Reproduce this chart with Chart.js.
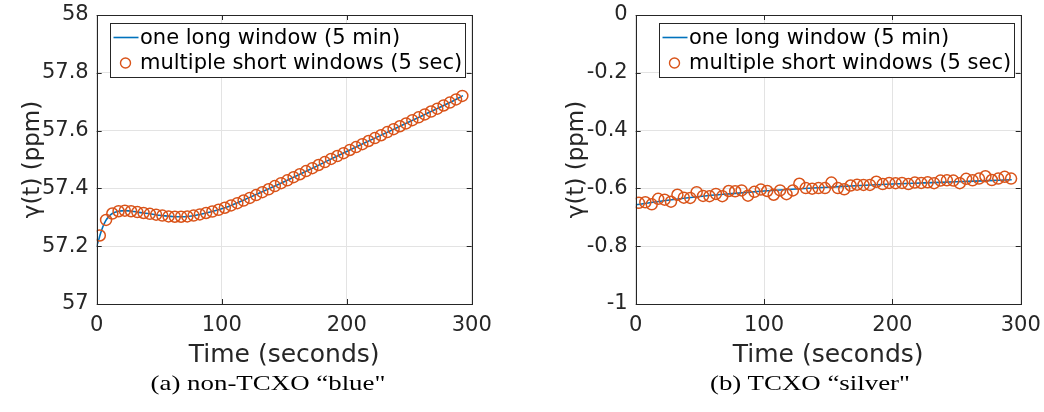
<!DOCTYPE html>
<html><head><meta charset="utf-8">
<script src="https://cdn.jsdelivr.net/npm/chart.js@4.4.1/dist/chart.umd.min.js"></script>
<style>
html,body{margin:0;padding:0;background:#fff;}
body{width:1044px;height:412px;position:relative;overflow:hidden;}
.c{position:absolute;top:0;}
.cap{position:absolute;top:370px;font-family:"Liberation Serif","DejaVu Serif",serif;font-size:21px;line-height:26px;color:#000;white-space:nowrap;transform:translateX(-50%) scaleX(1.28);}
</style></head><body>
<div class="c" style="left:0"><canvas id="chartA" width="520" height="375"></canvas></div>
<div class="c" style="left:540px"><canvas id="chartB" width="504" height="375"></canvas></div>
<div class="cap" id="capA" style="left:268px">(a) non-TCXO “blue"</div>
<div class="cap" id="capB" style="left:810px">(b) TCXO “silver"</div>
<script>
// ---- data ----
const shortTime = [2.5,7.5,12.5,17.5,22.5,27.5,32.5,37.5,42.5,47.5,
  52.5,57.5,62.5,67.5,72.5,77.5,82.5,87.5,92.5,97.5,
  102.5,107.5,112.5,117.5,122.5,127.5,132.5,137.5,142.5,147.5,
  152.5,157.5,162.5,167.5,172.5,177.5,182.5,187.5,192.5,197.5,
  202.5,207.5,212.5,217.5,222.5,227.5,232.5,237.5,242.5,247.5,
  252.5,257.5,262.5,267.5,272.5,277.5,282.5,287.5,292.5];

const blueShort = [57.237,57.291,57.313,57.321,57.323,57.321,57.318,57.315,57.312,57.309,
  57.306,57.303,57.302,57.302,57.303,57.306,57.310,57.315,57.320,57.326,
  57.333,57.341,57.349,57.358,57.367,57.377,57.387,57.397,57.408,57.418,
  57.428,57.439,57.449,57.460,57.470,57.481,57.491,57.502,57.512,57.522,
  57.533,57.543,57.553,57.564,57.574,57.584,57.595,57.605,57.615,57.625,
  57.636,57.646,57.656,57.666,57.676,57.687,57.697,57.708,57.720];

const blueLongTime  = [0,1,2,2.5,5,7.5,10,12.5,17.5,22.5,32.5,42.5,52.5,62.5,72.5,82.5,92.5,102.5,122.5,142.5,162.5,182.5,202.5,222.5,242.5,262.5,282.5,293];
const blueLongValue = [57.200,57.214,57.228,57.236,57.268,57.290,57.304,57.313,57.321,57.323,57.318,57.312,57.306,57.302,57.303,57.310,57.320,57.333,57.369,57.408,57.449,57.491,57.533,57.574,57.615,57.656,57.697,57.721];

const silverShort = [-0.650,-0.648,-0.655,-0.636,-0.639,-0.646,-0.622,-0.632,-0.633,-0.613,
  -0.626,-0.627,-0.619,-0.627,-0.609,-0.610,-0.607,-0.625,-0.612,-0.604,
  -0.609,-0.622,-0.607,-0.620,-0.607,-0.584,-0.599,-0.601,-0.599,-0.599,
  -0.580,-0.599,-0.603,-0.590,-0.587,-0.588,-0.588,-0.577,-0.585,-0.581,
  -0.582,-0.581,-0.585,-0.580,-0.581,-0.579,-0.582,-0.573,-0.572,-0.573,
  -0.582,-0.567,-0.572,-0.566,-0.558,-0.571,-0.566,-0.560,-0.566];

const silverLongTime  = [0,25,50,75,100,125,150,175,200,225,250,275,293];
const silverLongValue = [-0.657,-0.641,-0.628,-0.618,-0.609,-0.602,-0.596,-0.590,-0.585,-0.581,-0.577,-0.573,-0.570];

const xTickValues = [0,100,200,300];
const xTickLabels = ['0','100','200','300'];
const yTickValuesA = [57,57.2,57.4,57.6,57.8,58];
const yTickLabelsA = ['57','57.2','57.4','57.6','57.8','58'];
const yTickValuesB = [-1,-0.8,-0.6,-0.4,-0.2,0];
const yTickLabelsB = ['-1','-0.8','-0.6','-0.4','-0.2','0'];

const legendLabels = ['one long window (5 min)','multiple short windows (5 sec)'];
const xTitle = 'Time (seconds)';
const yTitle = 'γ(t) (ppm)';

// ---- styling ----
const AX = '#262626';
const BLUE = '#0072BD';
const ORANGE = '#D95319';
Chart.defaults.font.family = '"DejaVu Sans", sans-serif';
Chart.defaults.color = AX;

const framePlugin = {
  id: 'frame',
  afterDatasetsDraw(chart) {
    const ctx = chart.ctx, ca = chart.chartArea;
    const xs = chart.scales.x, ys = chart.scales.y;
    ctx.save();
    ctx.strokeStyle = AX; ctx.lineWidth = 1;
    ctx.strokeRect(Math.round(ca.left) + 0.5, Math.round(ca.top) + 0.5,
      Math.round(ca.right) - Math.round(ca.left), Math.round(ca.bottom) - Math.round(ca.top));
    const L = 5;
    ctx.beginPath();
    xs.ticks.forEach(t => {
      const px = Math.round(xs.getPixelForValue(t.value)) + 0.5;
      ctx.moveTo(px, ca.bottom); ctx.lineTo(px, ca.bottom - L);
      ctx.moveTo(px, ca.top); ctx.lineTo(px, ca.top + L);
    });
    ys.ticks.forEach(t => {
      const py = Math.round(ys.getPixelForValue(t.value)) + 0.5;
      ctx.moveTo(ca.left, py); ctx.lineTo(ca.left + L, py);
      ctx.moveTo(ca.right, py); ctx.lineTo(ca.right - L, py);
    });
    ctx.stroke();
    ctx.restore();
  },
  afterDraw(chart) {
    const o = chart.options.plugins.boxLegend;
    if (!o) return;
    const ctx = chart.ctx, ca = chart.chartArea;
    const x0 = Math.round(ca.right - o.right - o.width) + 0.5;
    const y0 = Math.round(ca.top + o.top) + 0.5;
    ctx.save();
    ctx.fillStyle = '#fff';
    ctx.fillRect(x0, y0, o.width, o.height);
    ctx.strokeStyle = AX; ctx.lineWidth = 1;
    ctx.strokeRect(x0, y0, o.width, o.height);
    const ds = chart.data.datasets;
    const r1 = y0 + 14, r2 = y0 + 39.5;
    ctx.strokeStyle = ds[0].borderColor; ctx.lineWidth = 1.6;
    ctx.beginPath(); ctx.moveTo(x0 + 3, r1); ctx.lineTo(x0 + 28, r1); ctx.stroke();
    ctx.strokeStyle = ds[1].borderColor; ctx.lineWidth = 1.4;
    ctx.beginPath(); ctx.arc(x0 + 15, r2, 5, 0, Math.PI * 2); ctx.stroke();
    ctx.fillStyle = '#000';
    ctx.font = '21px "DejaVu Sans"';
    ctx.textBaseline = 'middle'; ctx.textAlign = 'left';
    ctx.fillText(ds[0].label, x0 + 29.5, r1 + 1);
    ctx.fillText(ds[1].label, x0 + 29.5, r2 + 1);
    ctx.restore();
  }
};

function makeChart(id, longT, longV, shortV, yVals, yLabs, yWidth, padRight, yTitlePad) {
  const lineData = longT.map((t, i) => ({x: t, y: longV[i]}));
  const ptData = shortTime.map((t, i) => ({x: t, y: shortV[i]}));
  return new Chart(document.getElementById(id), {
    type: 'scatter',
    data: {
      datasets: [
        {type: 'line', label: legendLabels[0], data: lineData, borderColor: BLUE, borderWidth: 1.6,
         pointRadius: 0, fill: false, cubicInterpolationMode: 'monotone', order: 2},
        {type: 'scatter', label: legendLabels[1], data: ptData, borderColor: ORANGE, backgroundColor: 'rgba(0,0,0,0)',
         borderWidth: 1.5, pointRadius: 5.5, pointStyle: 'circle', order: 1}
      ]
    },
    options: {
      responsive: false, animation: false, devicePixelRatio: 1,
      layout: {padding: {top: 15, right: padRight, left: 0, bottom: 0}},
      plugins: {legend: {display: false}, tooltip: {enabled: false},
        boxLegend: {width: 355, height: 54, right: 7, top: 8}},
      scales: {
        x: {
          type: 'linear', min: 0, max: 300,
          afterBuildTicks: s => { s.ticks = xTickValues.map(v => ({value: v})); },
          afterFit: s => { s.height = 71; s.paddingLeft = 0; s.paddingRight = 0; },
          ticks: {callback: (v, i) => xTickLabels[i], font: {size: 21}, color: AX, padding: 9, maxRotation: 0, autoSkip: false},
          grid: {color: '#e3e3e3', drawTicks: false, lineWidth: 1},
          border: {display: false},
          title: {display: true, text: xTitle, font: {size: 25}, color: AX, padding: {top: 0, bottom: 5}}
        },
        y: {
          type: 'linear', min: yVals[0], max: yVals[yVals.length - 1],
          afterBuildTicks: s => { s.ticks = yVals.map(v => ({value: v})); },
          afterFit: s => { s.width = yWidth; s.paddingTop = 0; s.paddingBottom = 0; },
          ticks: {callback: (v, i) => yLabs[i], font: {size: 21}, color: AX, padding: 8, autoSkip: false},
          grid: {color: '#e3e3e3', drawTicks: false, lineWidth: 1},
          border: {display: false},
          title: {display: true, text: yTitle, font: {size: 23}, color: AX, padding: {top: yTitlePad, bottom: 0}}
        }
      }
    },
    plugins: [framePlugin]
  });
}

makeChart('chartA', blueLongTime, blueLongValue, blueShort, yTickValuesA, yTickLabelsA, 96.7, 48.3, 19);
makeChart('chartB', silverLongTime, silverLongValue, silverShort, yTickValuesB, yTickLabelsB, 95.7, 23.3, 23);
</script>
</body></html>
